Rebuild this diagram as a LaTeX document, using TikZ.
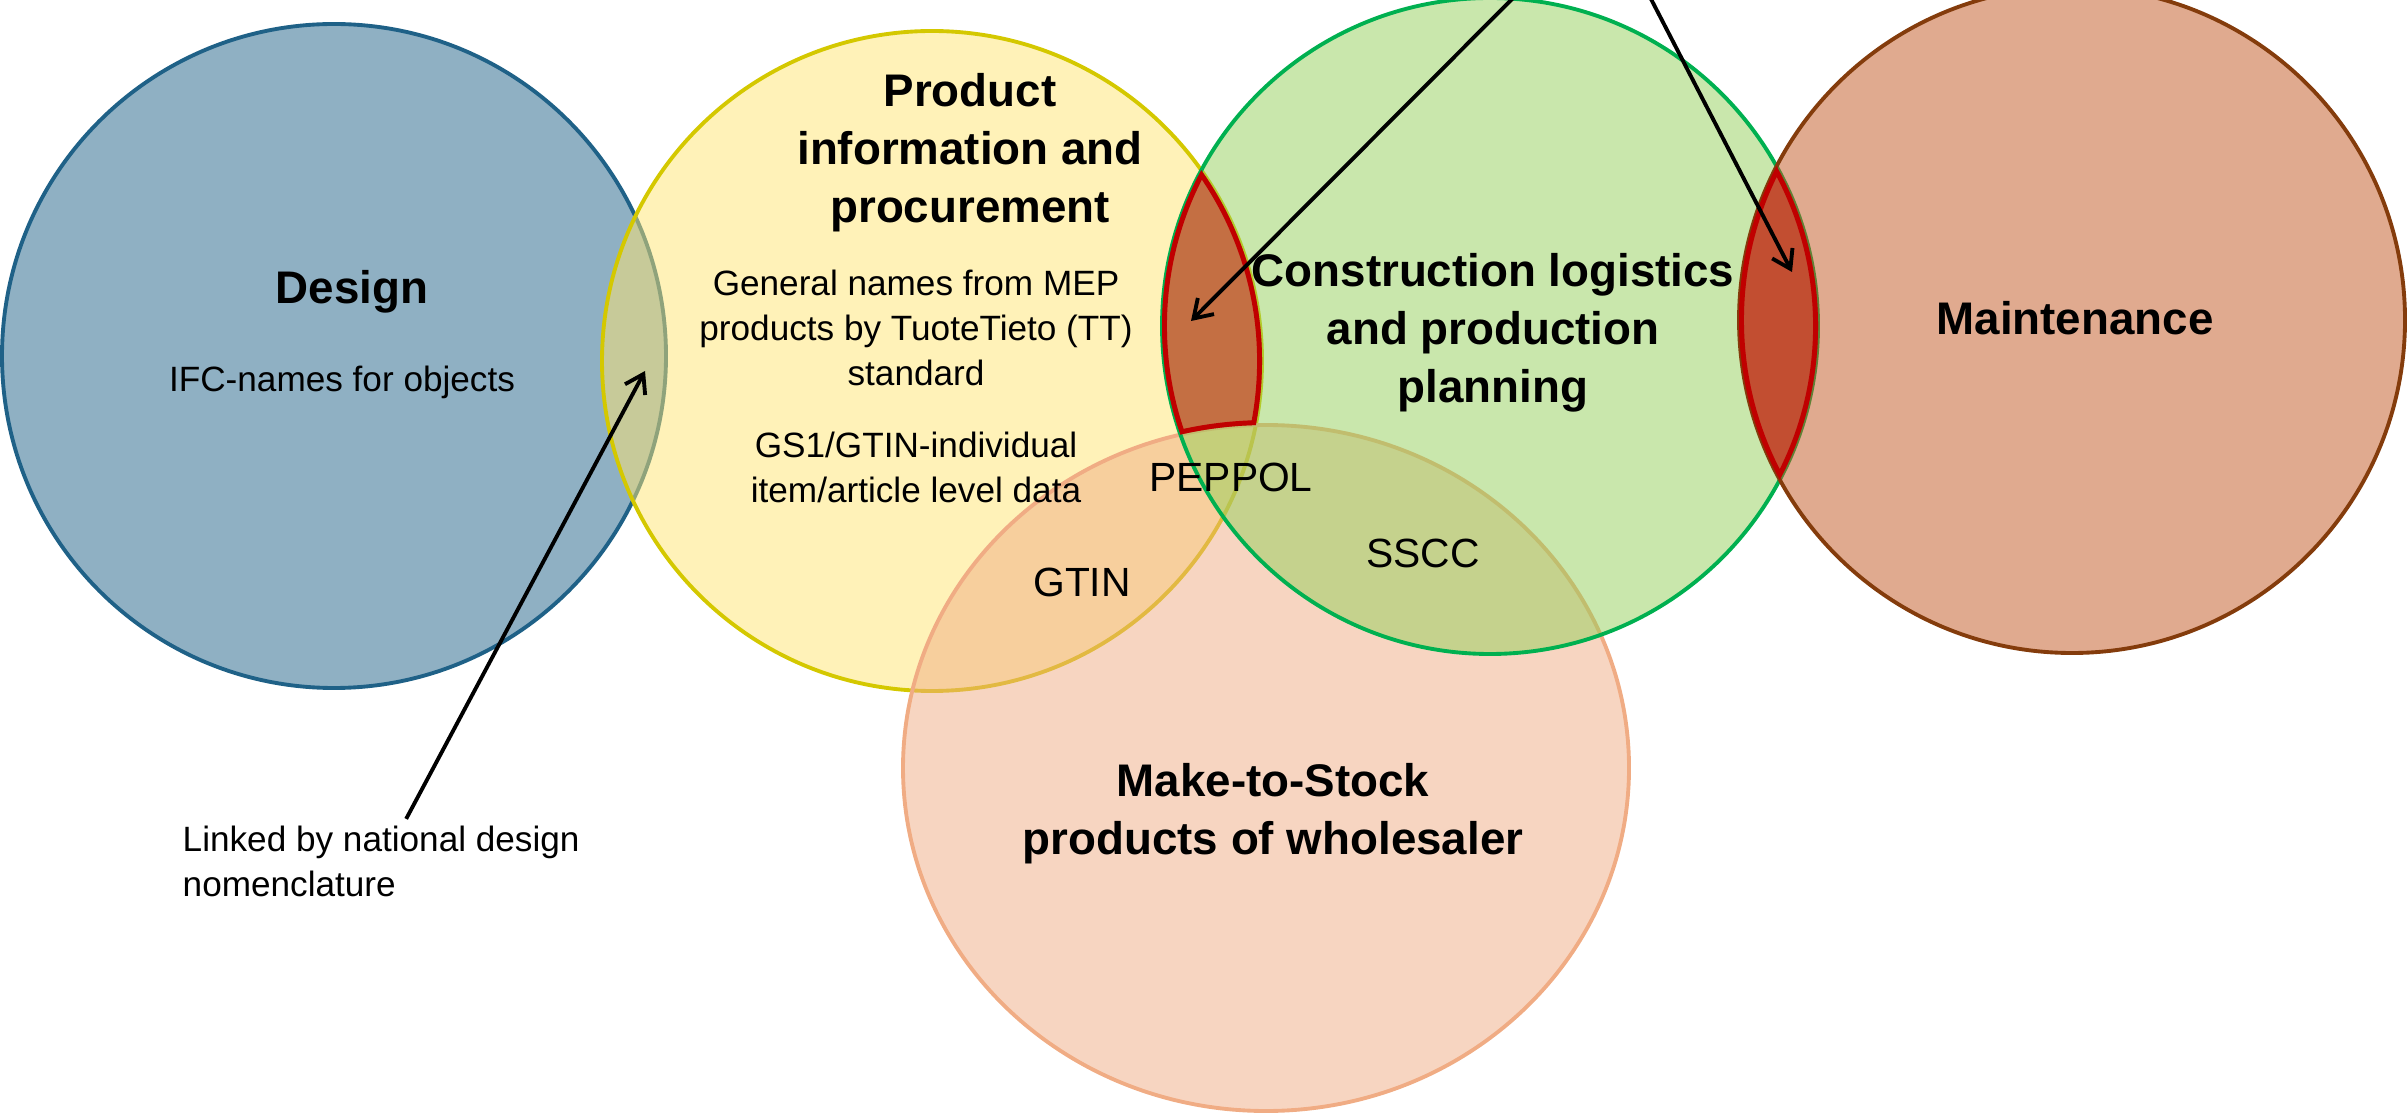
\documentclass[tikz,border=0pt]{standalone}
\usepackage{fontspec}
\setmainfont{Liberation Sans}
\usetikzlibrary{calc}
\usetikzlibrary{arrows.meta}

\definecolor{designblue}{RGB}{31,97,135}
\definecolor{prodyellow}{RGB}{255,229,113}
\definecolor{prodyellowline}{RGB}{212,200,0}
\definecolor{stockorange}{RGB}{240,172,132}
\definecolor{logigreen}{RGB}{147,207,89}
\definecolor{logigreenline}{RGB}{0,176,80}
\definecolor{maintbrown}{RGB}{193,85,31}
\definecolor{maintbrownline}{RGB}{132,60,12}
\definecolor{lensred}{RGB}{192,0,0}

\begin{document}
\begin{tikzpicture}[x=0.01cm,y=0.01cm,
  ring/.style={line width=1.1pt, fill opacity=0.5},
  lens/.style={fill=lensred, fill opacity=0.5},
  lensline/.style={draw=lensred, line width=2.8pt},
  head/.style={font=\fontsize{13}{16.5}\selectfont\bfseries, align=center, inner sep=0pt},
  body/.style={font=\fontsize{10}{12.8}\selectfont, align=center, inner sep=0pt},
  code/.style={font=\fontsize{11.6}{14}\selectfont, inner sep=0pt},
  pointer/.style={line width=1.1pt, -{Straight Barb[length=5pt,width=6.5pt]}}]
\useasboundingbox (0,0) rectangle (2407,-1113);
\clip (0,0) rectangle (2407,-1113);

\coordinate (dC) at (334,-356);
\coordinate (yC) at (932,-361);
\coordinate (oC) at (1266,-768);
\coordinate (gC) at (1490,-326);
\coordinate (mC) at (2072,-320);

\draw[ring, draw=designblue, fill=designblue] (dC) circle[radius=332];
\draw[ring, draw=prodyellowline, fill=prodyellow] (yC) circle[radius=330];
\draw[ring, draw=stockorange, fill=stockorange] (oC) ellipse[x radius=363, y radius=343];
\draw[ring, draw=logigreenline, fill=logigreen] (gC) circle[radius=328];
\draw[ring, draw=maintbrownline, fill=maintbrown] (mC) circle[radius=333];

% product / logistics overlap, cut off by the wholesaler circle
\begin{scope}
  \clip (yC) circle[radius=330];
  \clip (gC) circle[radius=328];
  \clip (-100,100) -- (2500,100) -- (2500,-1300) -- (-100,-1300) -- cycle
        (oC) ellipse[x radius=363, y radius=343];
  \fill[lens] (0,0) rectangle (2407,-1113);
  \draw[lensline] (yC) circle[radius=330] (gC) circle[radius=328]
        (oC) ellipse[x radius=363, y radius=343];
\end{scope}

% logistics / maintenance overlap
\begin{scope}
  \clip (gC) circle[radius=328];
  \clip (mC) circle[radius=333];
  \fill[lens] (0,0) rectangle (2407,-1113);
  \draw[lensline] (gC) circle[radius=328] (mC) circle[radius=333];
\end{scope}

\node[head] (design) at (352,-292) {Design};
\node[body] (ifc) at (342,-382) {IFC-names for objects};

\node[head] (product) at (970,-153) {Product\\information and\\procurement};
\node[body] (general) at (916,-328) {General names from MEP\\products by TuoteTieto (TT)\\standard};
\node[body] (gsone) at (916,-467) {GS1/GTIN-individual\\item/article level data};

\node[head] (logistics) at (1493,-333) {Construction logistics\\and production\\planning};
\node[head] (maint) at (2075,-318) {Maintenance};
\node[head] (stock) at (1273,-814) {Make-to-Stock\\products of wholesaler};

\node[code] (peppol) at (1231,-477) {PEPPOL};
\node[code] (gtin) at (1082,-582) {GTIN};
\node[code] (sscc) at (1423,-553) {SSCC};

\node[body, align=left, anchor=west] (linklbl) at (182,-861) {Linked by national design\\nomenclature};

\coordinate (dyTip) at (645,-371);
\coordinate (ygTip) at (1191,-321);
\coordinate (gmTip) at (1792,-272);
\coordinate (topA) at (1541,30);
\coordinate (topB) at (1636,30);

\draw[pointer] ($(linklbl.north)+(25,6)$) -- (dyTip);
\draw[pointer] (topA) -- (ygTip);
\draw[pointer] (topB) -- (gmTip);
\end{tikzpicture}
\end{document}
